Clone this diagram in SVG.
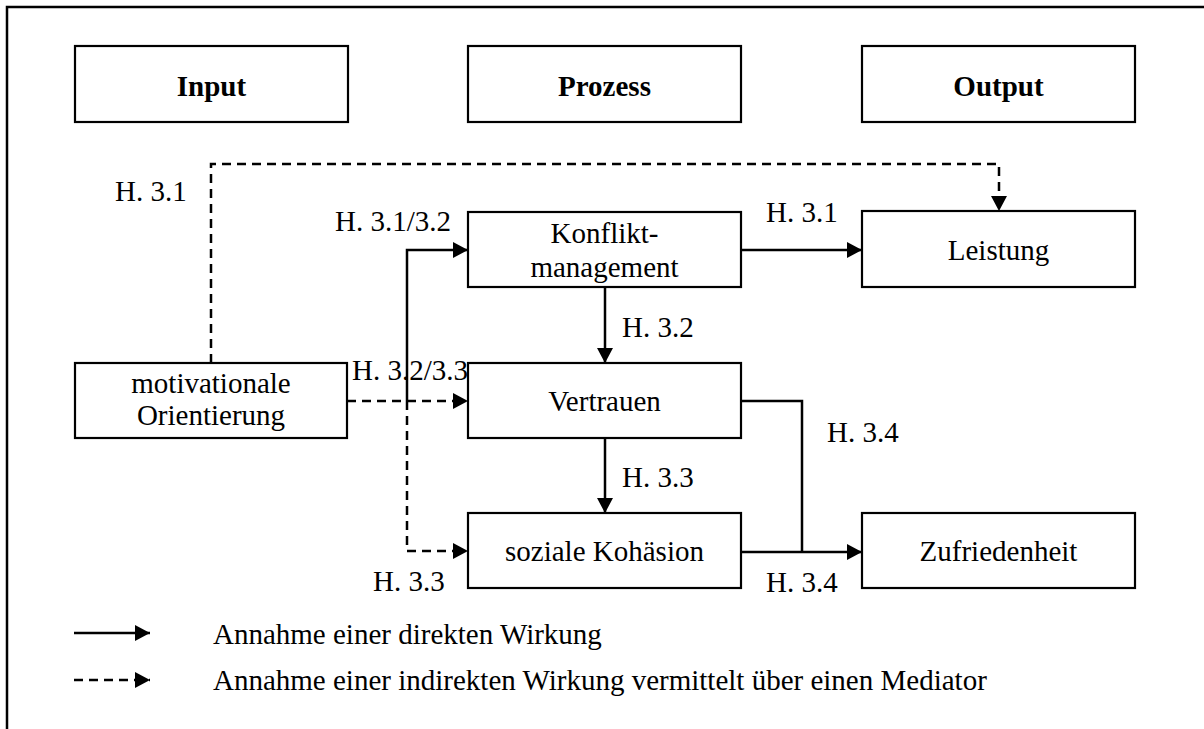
<svg xmlns="http://www.w3.org/2000/svg" width="1204" height="729" viewBox="0 0 1204 729">
<defs>
<marker id="ah" markerUnits="userSpaceOnUse" markerWidth="16" markerHeight="16" refX="15" refY="8" orient="auto">
<path d="M0,0 L15,8 L0,16 Z" fill="#000"/>
</marker>
<style>
.box{fill:#fff;stroke:#000;stroke-width:2.2}
.t{font-family:"Liberation Serif","Times New Roman",serif;font-size:29px;fill:#000}
.c{text-anchor:middle}
.b{font-weight:bold}
.ln{fill:none;stroke:#000;stroke-width:2.5}
.d{stroke-dasharray:9,6}
</style>
</defs>
<rect width="1204" height="729" fill="#fff"/>
<rect x="7" y="7" width="1300" height="800" fill="none" stroke="#000" stroke-width="2.5"/>

<g id="connectors">
<path class="ln d" d="M211,363 V164 H999 V211" marker-end="url(#ah)"/>
<path class="ln" d="M741,250 H862" marker-end="url(#ah)"/>
<path class="ln" d="M407,401 V250 H468" marker-end="url(#ah)"/>
<path class="ln d" d="M347,401 H468" marker-end="url(#ah)"/>
<path class="ln d" d="M407,401 V551 H468" marker-end="url(#ah)"/>
<path class="ln" d="M605,287 V363" marker-end="url(#ah)"/>
<path class="ln" d="M605,438 V513" marker-end="url(#ah)"/>
<path class="ln" d="M741,401 H802 V552"/>
<path class="ln" d="M741,552 H862" marker-end="url(#ah)"/>
<path class="ln" d="M74,633 H150" marker-end="url(#ah)"/>
<path class="ln d" d="M74,680 H150" marker-end="url(#ah)"/>
</g>

<g id="input"><rect class="box" x="75" y="46" width="273" height="76"/><text class="t c b" x="211.5" y="96">Input</text></g>
<g id="prozess"><rect class="box" x="468" y="46" width="273" height="76"/><text class="t c b" x="604.5" y="96">Prozess</text></g>
<g id="output"><rect class="box" x="862" y="46" width="273" height="76"/><text class="t c b" x="998.5" y="96">Output</text></g>
<g id="konflikt"><rect class="box" x="468" y="212" width="273" height="75"/><text class="t c" x="604.5" y="243">Konflikt-</text><text class="t c" x="604.5" y="277">management</text></g>
<g id="leistung"><rect class="box" x="862" y="211" width="273" height="76"/><text class="t c" x="998.5" y="260">Leistung</text></g>
<g id="motivation"><rect class="box" x="75" y="363" width="272" height="75"/><text class="t c" x="211" y="393">motivationale</text><text class="t c" x="211" y="425">Orientierung</text></g>
<g id="vertrauen"><rect class="box" x="468" y="363" width="273" height="75"/><text class="t c" x="604.5" y="411">Vertrauen</text></g>
<g id="kohaesion"><rect class="box" x="468" y="513" width="273" height="75"/><text class="t c" x="604.5" y="561">soziale Kohäsion</text></g>
<g id="zufriedenheit"><rect class="box" x="862" y="513" width="273" height="75"/><text class="t c" x="998.5" y="561">Zufriedenheit</text></g>

<g id="labels">
<text class="t" x="115" y="201">H. 3.1</text>
<text class="t" x="335" y="231">H. 3.1/3.2</text>
<text class="t" x="766" y="222">H. 3.1</text>
<text class="t" x="352" y="380">H. 3.2/3.3</text>
<text class="t" x="622" y="337">H. 3.2</text>
<text class="t" x="622" y="487">H. 3.3</text>
<text class="t" x="373" y="591">H. 3.3</text>
<text class="t" x="827" y="442">H. 3.4</text>
<text class="t" x="766" y="592">H. 3.4</text>
<text class="t" x="213" y="644">Annahme einer direkten Wirkung</text>
<text class="t" x="213" y="690">Annahme einer indirekten Wirkung vermittelt über einen Mediator</text>
</g>
</svg>
